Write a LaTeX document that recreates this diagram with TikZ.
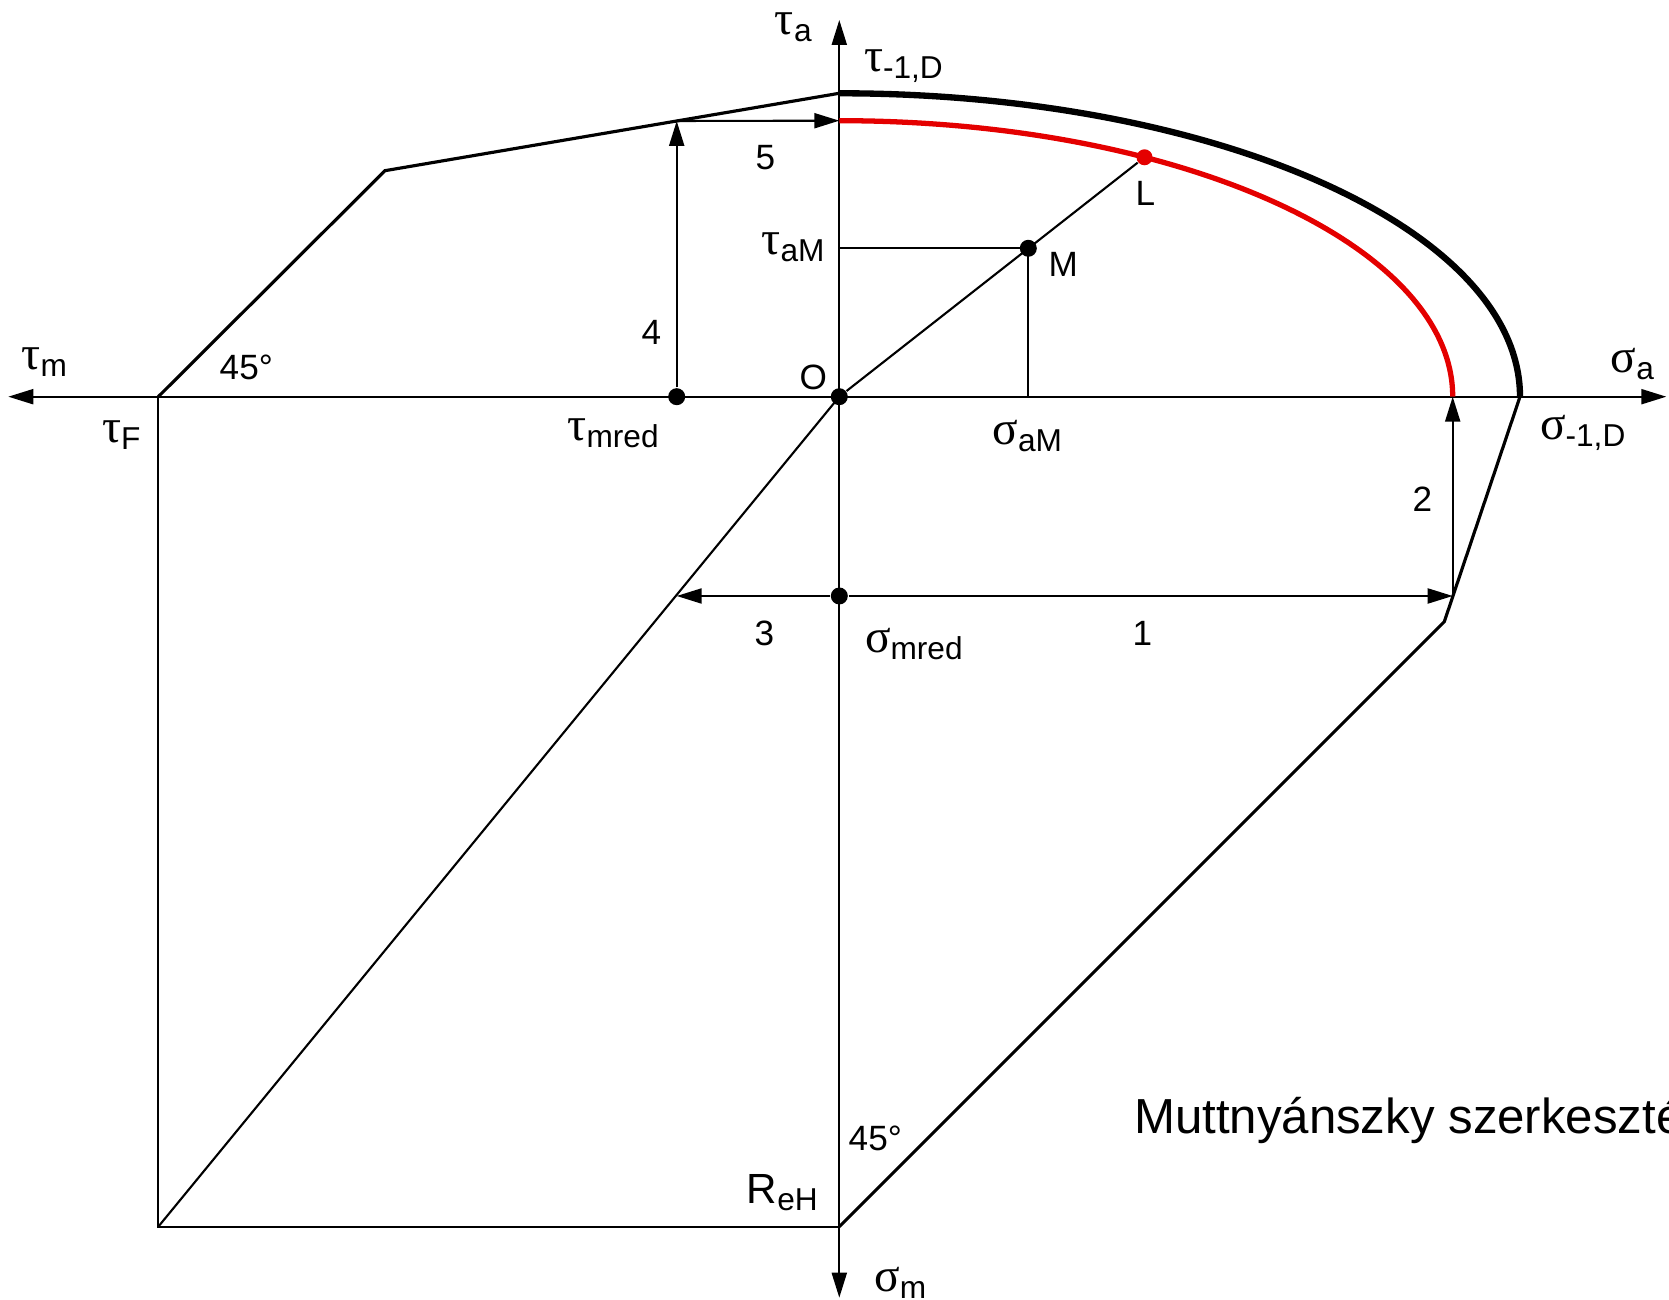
\documentclass[tikz,border=0pt]{standalone}
\usepackage{fontspec}
\setmainfont{Liberation Sans}
\newfontfamily\grfont{Liberation Serif}
\usetikzlibrary{arrows.meta}
\definecolor{redline}{RGB}{228,0,0}
% Greek symbol with a lowered sans subscript
\newcommand{\glbl}[2]{{\grfont\fontsize{13.5}{13.5}\selectfont #1}\raisebox{-2pt}{\fontsize{9}{9}\selectfont #2}}

\begin{document}
\begin{tikzpicture}[
  axis/.style={line width=.6pt,{Triangle[length=2.5mm,width=1.5mm]}-{Triangle[length=2.5mm,width=1.5mm]}},
  thinline/.style={line width=.6pt},
  border/.style={line width=.9pt},
  limit/.style={line width=1.8pt},
  reduced/.style={line width=1.5pt,redline},
  move/.style={line width=.6pt,-{Triangle[length=2.5mm,width=1.5mm]}},
  dot/.style={circle,fill,inner sep=0pt,minimum size=1.7mm},
  lbl/.style={inner sep=0pt,font=\fontsize{10}{12}\selectfont}]
  \useasboundingbox (-8.393,-9.033) rectangle (8.297,3.967);
  \def\xr{6.807}\def\yr{3.034}   % limit ellipse
  \def\xd{6.134}\def\yd{2.76}    % reduced ellipse
  % Axis ends and construction points.
  \coordinate (xl) at (-8.31,0);
  \coordinate (xrt) at (8.27,0);
  \coordinate (yt) at (0,3.767);
  \coordinate (yb) at (0,-9.01);
  \coordinate (tF) at (-6.81,0);
  \coordinate (kUL) at (-4.543,2.26);
  \coordinate (t1D) at (0,\yr);
  \coordinate (s1D) at (\xr,0);
  \coordinate (kLR) at (6.05,-2.25);
  \coordinate (ReH) at (0,-8.30);
  \coordinate (BL) at (-6.81,-8.30);
  \coordinate (C45) at (-1.626,2.757);
  \coordinate (redtop) at (0,\yd);
  \coordinate (redend) at (\xd,0);
  \coordinate (C12) at (\xd,-1.993);
  \coordinate (C3) at (-1.626,-1.993);
  \coordinate (taM) at (0,1.484);
  \coordinate (saM) at (1.89,0);
  % Axes.
  \draw[axis] (xl) -- (xrt);
  \draw[axis] (yb) -- (yt);
  % Yield limits (45 degree lines) and the projection frame.
  \draw[border] (tF) -- (kUL) -- (t1D);
  \draw[border] (s1D) -- (kLR) -- (ReH);
  \draw[thinline] (tF) -- (BL) -- (ReH);
  \draw[thinline] (BL) -- (0,0);
  % Limit curves.
  \draw[limit] (t1D) arc[start angle=90,end angle=0,x radius=\xr,y radius=\yr];
  \draw[reduced] (redtop) arc[start angle=90,end angle=0,x radius=\xd,y radius=\yd];
  % Points of the construction.
  \node[dot] (tmred) at (-1.626,0) {};
  \node[dot] (O) at (0,0) {};
  \node[dot] (smred) at (0,-1.993) {};
  \node[dot] (M) at (1.89,1.484) {};
  \node[dot,redline,minimum size=1.6mm] (L) at (3.052,2.394) {};
  \draw[thinline] (O) -- (L);
  \draw[thinline] (taM) -- (M.center) -- (saM);
  % Steps 1 to 5.
  \draw[move] (smred) -- (C12);
  \draw[move] (C12) -- (redend);
  \draw[move] (smred) -- (C3);
  \draw[move] (tmred) -- (C45);
  \draw[move] (C45) -- (redtop);
  % Labels.
  \node[lbl] (lta) at (-0.46,3.69) {\glbl{τ}{a}};
  \node[lbl,anchor=west] (lt1D) at (0.24,3.31) {\glbl{τ}{-1,D}};
  \node[lbl] (l5) at (-0.74,2.39) {5};
  \node[lbl,anchor=east] (ltaM) at (-0.14,1.49) {\glbl{τ}{aM}};
  \node[lbl] (lM) at (2.24,1.32) {M};
  \node[lbl] (lL) at (3.06,2.03) {L};
  \node[lbl] (ltm) at (-7.95,0.35) {\glbl{τ}{m}};
  \node[lbl] (l45a) at (-5.93,0.29) {45°};
  \node[lbl] (ltF) at (-7.18,-0.38) {\glbl{τ}{F}};
  \node[lbl] (lO) at (-0.26,0.19) {O};
  \node[lbl] (l4) at (-1.88,0.64) {4};
  \node[lbl,anchor=east] (ltmred) at (-1.80,-0.37) {\glbl{τ}{mred}};
  \node[lbl] (lsaM) at (1.88,-0.39) {\glbl{σ}{aM}};
  \node[lbl] (lsa) at (7.93,0.33) {\glbl{σ}{a}};
  \node[lbl,anchor=west] (ls1D) at (7.0,-0.36) {\glbl{σ}{-1,D}};
  \node[lbl] (l2) at (5.83,-1.03) {2};
  \node[lbl] (l3) at (-0.75,-2.37) {3};
  \node[lbl,anchor=west] (lsmred) at (0.25,-2.47) {\glbl{σ}{mred}};
  \node[lbl] (l1) at (3.03,-2.37) {1};
  \node[lbl] (l45b) at (0.36,-7.42) {45°};
  \node[lbl] (lReH) at (-0.57,-7.96) {{\fontsize{12}{12}\selectfont R}\raisebox{-2pt}{\fontsize{9}{9}\selectfont eH}};
  \node[lbl] (lsm) at (0.61,-8.86) {\glbl{σ}{m}};
  \node[lbl,anchor=base west,font=\fontsize{14}{16}\selectfont] (title) at (2.94,-7.37) {Muttnyánszky szerkesztés};
\end{tikzpicture}
\end{document}
